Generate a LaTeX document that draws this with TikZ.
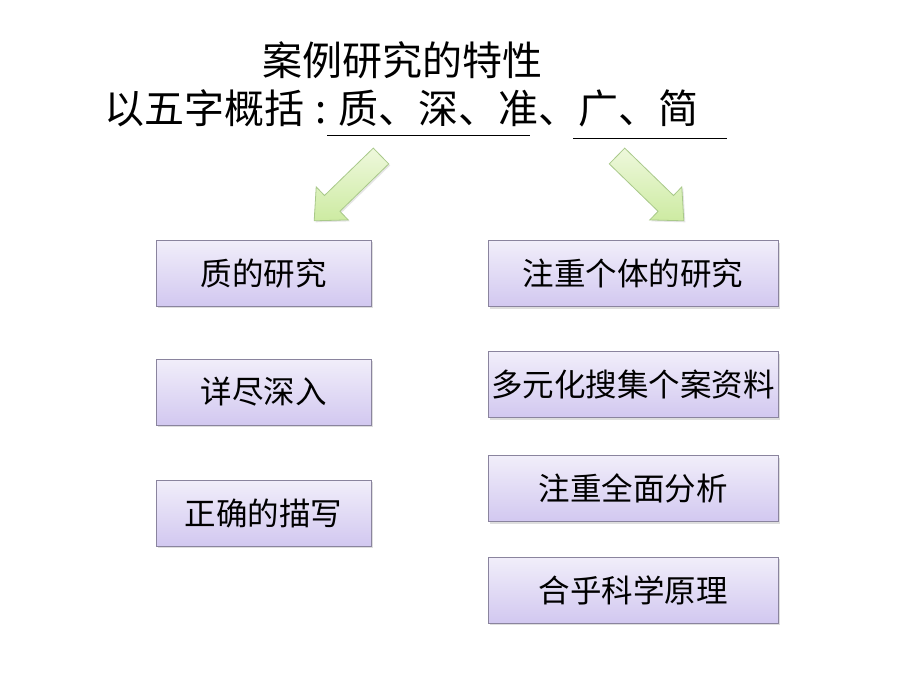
\documentclass[tikz,border=0pt]{standalone}
\usepackage{fontspec}
\setmainfont{Noto Sans CJK SC}
\usetikzlibrary{shadows}
\definecolor{boxtop}{HTML}{F1EEFA}
\definecolor{boxbot}{HTML}{D2C8F0}
\definecolor{boxline}{HTML}{8A849E}
\definecolor{arrtop}{HTML}{EEF8DC}
\definecolor{arrbot}{HTML}{CDEBA2}
\definecolor{arrline}{HTML}{A9C98A}
\tikzset{
  itembox/.style={draw=boxline, line width=0.8pt, top color=boxtop, bottom color=boxbot,
    minimum height=66pt, inner sep=0pt, font=\fontsize{31.5}{36}\selectfont,
    drop shadow={shadow xshift=2pt, shadow yshift=-2pt, fill=black!25, opacity=0.5}},
  greenarrow/.style={draw=arrline, line width=0.8pt, top color=arrtop, bottom color=arrbot,
    line join=miter,
    drop shadow={shadow xshift=1.5pt, shadow yshift=-1.5pt, fill=black!20, opacity=0.5}},
  titletext/.style={font=\fontsize{40}{46}\selectfont, inner sep=0pt, anchor=base west},
  uline/.style={draw=black, line width=0.7pt}
}
\begin{document}
\begin{tikzpicture}[x=1pt,y=-1pt]
\useasboundingbox[fill=white] (0,0) rectangle (908,677);
% titles
\node[titletext] (t1) at (262,76) {案例研究的特性};
\node[titletext] (t2) at (104,124) {以五字概括\makebox[34pt][c]{:}质、深、准、广、简};
\coordinate (u1a) at (327,135); \coordinate (u1b) at (530,135);
\coordinate (u2a) at (573,138); \coordinate (u2b) at (727,138);
\draw[uline] (u1a) -- (u1b);
\draw[uline] (u2a) -- (u2b);
% arrows
\path[greenarrow] (373.3,148.1) -- (388.7,163.9) -- (339.9,211.3) -- (348.2,219.9)
  -- (314.2,220.8) -- (316.2,186.9) -- (324.5,195.5) -- cycle;
\path[greenarrow] (624.7,148.1) -- (609.3,163.9) -- (658.1,211.3) -- (649.8,219.9)
  -- (683.8,220.8) -- (681.8,186.9) -- (673.5,195.5) -- cycle;
% left boxes
\node[itembox, minimum width=215pt] (l1) at (263.5,273) {质的研究};
\node[itembox, minimum width=215pt] (l2) at (263.5,392) {详尽深入};
\node[itembox, minimum width=215pt] (l3) at (263.5,513) {正确的描写};
% right boxes
\node[itembox, minimum width=290pt] (r1) at (633,273.5) {注重个体的研究};
\node[itembox, minimum width=290pt] (r2) at (633,384.5) {多元化搜集个案资料};
\node[itembox, minimum width=290pt] (r3) at (633,488.5) {注重全面分析};
\node[itembox, minimum width=290pt] (r4) at (633,590) {合乎科学原理};
\end{tikzpicture}
\end{document}
